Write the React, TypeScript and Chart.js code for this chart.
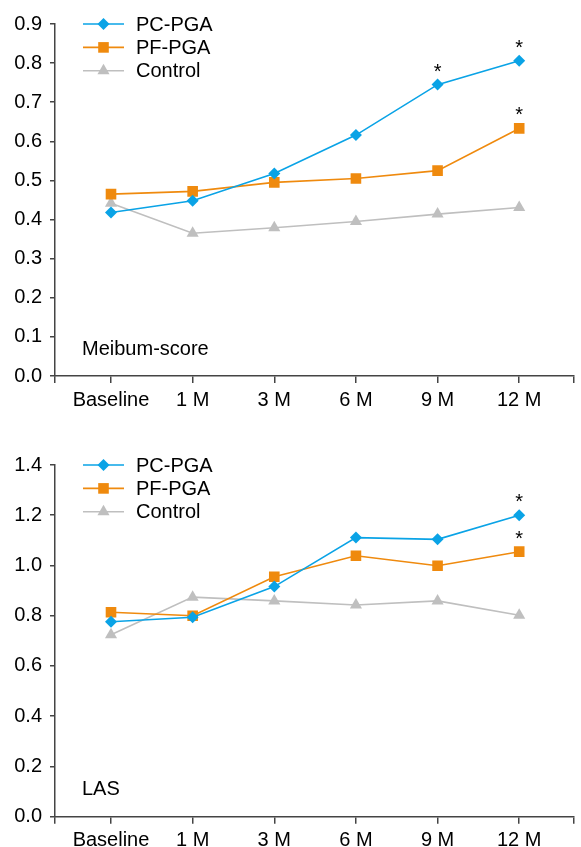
import React, { useEffect, useRef } from 'react';
import { Chart, registerables } from 'chart.js';
import { drawPoint } from 'chart.js/helpers';

Chart.register(...registerables);

const categories = ['Baseline', '1 M', '3 M', '6 M', '9 M', '12 M'];
const seriesNames = ['PC-PGA', 'PF-PGA', 'Control'];

const meibumPC = [0.418, 0.448, 0.518, 0.616, 0.745, 0.806];
const meibumPF = [0.465, 0.472, 0.495, 0.505, 0.525, 0.633];
const meibumControl = [0.442, 0.365, 0.379, 0.395, 0.414, 0.431];

const lasPC = [0.776, 0.794, 0.916, 1.111, 1.104, 1.2];
const lasPF = [0.814, 0.8, 0.955, 1.039, 0.999, 1.055];
const lasControl = [0.724, 0.874, 0.859, 0.843, 0.859, 0.802];

const meibumTicks = [0, 0.1, 0.2, 0.3, 0.4, 0.5, 0.6, 0.7, 0.8, 0.9];
const lasTicks = [0, 0.2, 0.4, 0.6, 0.8, 1.0, 1.2, 1.4];

// [datasetIndex, categoryIndex] of points marked with an asterisk
const meibumSig = [[0, 4], [0, 5], [1, 5]];
const lasSig = [[0, 5], [1, 5]];

const COLORS = ['#0aa3e6', '#ef8a0e', '#bfbfbf'];
const STYLES = ['rectRot', 'rect', 'triangle'];
const RADII = [6, 7.5, 7];
const FONT = '"Liberation Sans", Arial, Helvetica, sans-serif';
const FS = 20;
const AXIS = '#444444';

const X_MIN = -0.686;
const X_MAX = 5.665;

const overlayPlugin = {
  id: 'overlay',
  afterDraw(chart: any, _args: any, opts: any) {
    const ctx = chart.ctx;
    const area = chart.chartArea;
    ctx.save();
    // legend
    ctx.font = `${FS}px ${FONT}`;
    ctx.textBaseline = 'middle';
    ctx.textAlign = 'left';
    chart.data.datasets.forEach((ds: any, i: number) => {
      const y = area.top + i * 23.4;
      const x0 = area.left + 28;
      ctx.strokeStyle = ds.borderColor;
      ctx.lineWidth = ds.borderWidth;
      ctx.beginPath();
      ctx.moveTo(x0, y);
      ctx.lineTo(x0 + 41, y);
      ctx.stroke();
      ctx.fillStyle = ds.pointBackgroundColor;
      ctx.strokeStyle = ds.pointBorderColor;
      drawPoint(ctx, { pointStyle: ds.pointStyle, radius: ds.pointRadius, rotation: 0, borderWidth: 0 }, x0 + 20.5, y);
      ctx.fillStyle = '#000';
      ctx.fillText(ds.label, x0 + 53, y + 1);
    });
    // panel label
    ctx.fillStyle = '#000';
    ctx.fillText(opts.panel, area.left + 27, area.bottom - 27);
    // asterisks
    ctx.font = `${FS}px ${FONT}`;
    ctx.textAlign = 'center';
    ctx.textBaseline = 'alphabetic';
    (opts.sig || []).forEach(([d, idx]: number[]) => {
      const el = chart.getDatasetMeta(d).data[idx];
      if (!el) return;
      ctx.fillText('*', el.x, el.y - 7);
    });
    ctx.restore();
  },
};

function makeConfig(series: number[][], yTicks: number[], panel: string, sig: number[][], padTop: number, xHeight: number) {
  return {
    type: 'line' as const,
    data: {
      datasets: series.map((vals, i) => ({
        label: seriesNames[i],
        data: vals.map((v, j) => ({ x: j, y: v })),
        borderColor: COLORS[i],
        backgroundColor: COLORS[i],
        pointBackgroundColor: COLORS[i],
        pointBorderColor: COLORS[i],
        pointBorderWidth: 0,
        pointStyle: STYLES[i],
        pointRadius: RADII[i],
        borderWidth: 1.6,
        tension: 0,
        fill: false,
      })),
    },
    options: {
      responsive: false,
      animation: false as const,
      devicePixelRatio: 1,
      layout: { padding: { top: padTop, right: 1, bottom: 0, left: 0 } },
      plugins: {
        legend: { display: false },
        tooltip: { enabled: false },
        overlay: { panel, sig },
      },
      scales: {
        x: {
          type: 'linear' as const,
          min: X_MIN,
          max: X_MAX,
          afterBuildTicks: (s: any) => {
            s.ticks = [X_MIN, ...categories.map((_, i) => i), X_MAX].map((v) => ({ value: v }));
          },
          afterFit: (s: any) => {
            s.height = xHeight;
          },
          ticks: {
            autoSkip: false,
            maxRotation: 0,
            minRotation: 0,
            padding: 5,
            color: '#000',
            font: { size: FS, family: FONT },
            callback: (v: number) => (Number.isInteger(v) && v >= 0 && v < categories.length ? categories[v] : ''),
          },
          grid: { drawOnChartArea: false, drawTicks: true, tickLength: 7, color: AXIS, lineWidth: 1.5 },
          border: { display: true, color: AXIS, width: 1.5 },
        },
        y: {
          type: 'linear' as const,
          min: yTicks[0],
          max: yTicks[yTicks.length - 1],
          afterBuildTicks: (s: any) => {
            s.ticks = yTicks.map((v) => ({ value: v }));
          },
          afterFit: (s: any) => {
            s.width = 55;
          },
          ticks: {
            padding: 8,
            color: '#000',
            font: { size: FS, family: FONT },
            callback: (v: number) => v.toFixed(1),
          },
          grid: { drawOnChartArea: false, drawTicks: true, tickLength: 5, color: AXIS, lineWidth: 1.5 },
          border: { display: true, color: AXIS, width: 1.5 },
        },
      },
    },
    plugins: [overlayPlugin],
  };
}

function Panel(props: { series: number[][]; yTicks: number[]; panel: string; sig: number[][]; top: number; height: number; padTop: number; xHeight: number }) {
  const ref = useRef<HTMLCanvasElement | null>(null);
  useEffect(() => {
    if (!ref.current) return;
    const chart = new Chart(ref.current, makeConfig(props.series, props.yTicks, props.panel, props.sig, props.padTop, props.xHeight) as any);
    return () => chart.destroy();
  }, []);
  return (
    <div style={{ position: 'absolute', left: 0, top: props.top, width: 581, height: props.height }}>
      <canvas ref={ref} width={581} height={props.height} style={{ width: 581, height: props.height, display: 'block' }} />
    </div>
  );
}

export default function App() {
  return (
    <div style={{ position: 'absolute', left: 0, top: 0, width: 581, height: 847, overflow: 'hidden', background: '#fff' }}>
      <Panel series={[meibumPC, meibumPF, meibumControl]} yTicks={meibumTicks} panel="Meibum-score" sig={meibumSig} top={0} height={420} padTop={24} xHeight={44} />
      <Panel series={[lasPC, lasPF, lasControl]} yTicks={lasTicks} panel="LAS" sig={lasSig} top={420} height={440} padTop={45} xHeight={43.3} />
    </div>
  );
}
